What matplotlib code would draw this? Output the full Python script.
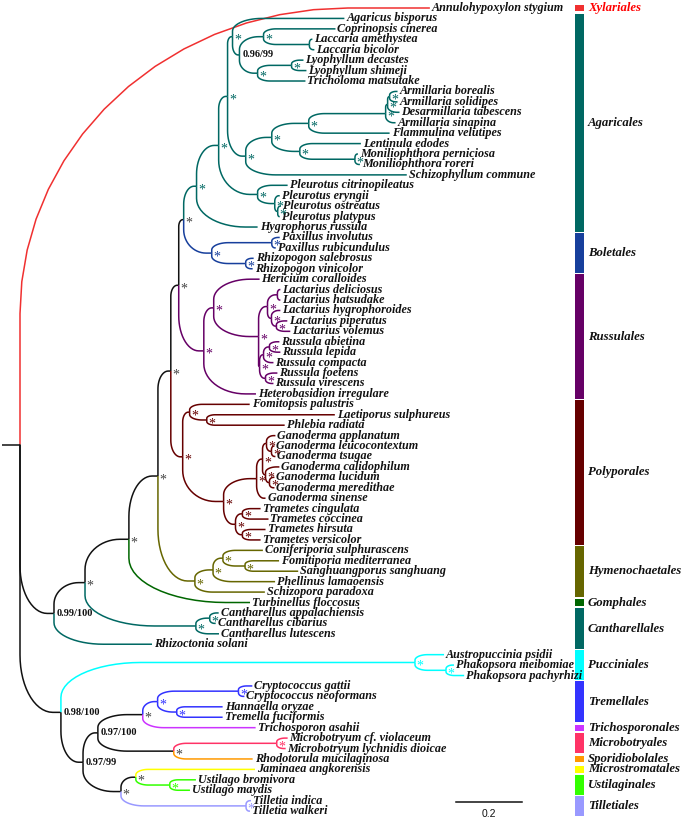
import matplotlib
matplotlib.use("Agg")
import matplotlib.pyplot as plt
import numpy as np
from matplotlib.collections import LineCollection
from matplotlib.patches import Rectangle
from matplotlib.transforms import blended_transform_factory

# ---------------- data ----------------
# Tree pieces (Newick, branch lengths in substitutions/site, internal labels = support)
G2 = ("((Coprinopsis_cinerea:0.218,(Laccaria_amethystea:0.009,Laccaria_bicolor:0.015):0.139)*:0.073,"
      "((Lyophyllum_decastes:0.036,Lyophyllum_shimeji:0.045)*:0.103,Tricholoma_matsutake:0.145)*:0.055)0.96/99:0.021")
G1 = f"(Agaricus_bisporus:0.339,{G2})*:0.015"
ARM = ("(((Armillaria_borealis:0.024,Armillaria_solidipes:0.024)*:0.006,Desarmillaria_tabescens:0.036)*:0.006,"
       "Armillaria_sinapina:0.030)*:0.233")
K3 = f"({ARM},Flammulina_velutipes:0.245)*:0.112"
K4 = "(Lentinula_edodes:0.185,(Moniliophthora_perniciosa:0.009,Moniliophthora_roreri:0.015)*:0.167)*:0.085"
K1 = f"(({K3},{K4})*:0.079,Schizophyllum_commune:0.488)*:0.055"
G = f"({G1},{K1})*:0.027"
PLEUR = ("(Pleurotus_citrinopileatus:0.091,(Pleurotus_eryngii:0.015,"
         "(Pleurotus_ostreatus:0.009,Pleurotus_platypus:0.006)*:0.009)*:0.052)*:0.118")
AGAR = f"(({G},{PLEUR})*:0.067,Hygrophorus_russula:0.185)*:0.039"
BOLET = ("((Paxillus_involutus:0.024,Paxillus_rubicundulus:0.012)*:0.182,"
         "(Rhizopogon_salebrosus:0.024,Rhizopogon_vinicolor:0.021)*:0.103)*:0.085")
F = f"({AGAR},{BOLET})*:0.015"
LACT = ("((Lactarius_deliciosus:0.009,Lactarius_hatsudake:0.009):0.030,(Lactarius_hygrophoroides:0.027,"
        "(Lactarius_piperatus:0.033,Lactarius_volemus:0.042)*:0.015)*:0.012)*:0.027")
RUSSULA = ("(((Russula_abietina:0.030,Russula_lepida:0.033)*:0.018,Russula_compacta:0.030)*:0.012,"
           "(Russula_foetens:0.036,Russula_virescens:0.024)*:0.018)*:0.003")
RUSS = f"((Hericium_coralloides:0.139,({LACT},{RUSSULA})*:0.136)*:0.030,Heterobasidion_irregulare:0.158)*:0.076"
E = f"({F},{RUSS})*:0.024"
P1 = "(Fomitopsis_palustris:0.182,(Laetiporus_sulphureus:0.388,Phlebia_radiata:0.236)*:0.052)*:0.021"
GANO = ("(((Ganoderma_applanatum:0.027,(Ganoderma_leucocontextum:0.009,Ganoderma_tsugae:0.012)*:0.015)*:0.012,"
        "(Ganoderma_calidophilum:0.042,(Ganoderma_lucidum:0.015,Ganoderma_meredithae:0.015)*:0.012)*:0.009)*:0.018,"
        "Ganoderma_sinense:0.027)*:0.100")
TRAM = ("((Trametes_cingulata:0.055,Trametes_coccinea:0.079)*:0.021,"
        "(Trametes_hirsuta:0.070,Trametes_versicolor:0.055)*:0.021)*:0.036")
POLYP = f"({P1},({GANO},{TRAM})*:0.124)*:0.036"
D = f"({E},{POLYP})*:0.039"
HYMENO = ("(((Coniferiporia_sulphurascens:0.121,(Fomitiporia_mediterranea:0.103,Sanghuangporus_sanghuang:0.161)*:0.067)*:0.030,"
          "Phellinus_lamaoensis:0.188)*:0.055,Schizopora_paradoxa:0.212)*:0.112")
C = f"({D},{HYMENO})*:0.088"
B = f"({C},Turbinellus_floccosus:0.367)*:0.133"
CANTH = ("((Cantharellus_appalachiensis:0.027,Cantharellus_cibarius:0.018)*:0.042,"
         "Cantharellus_lutescens:0.070)*:0.336")
A = f"({B},{CANTH})*:0.094"
N099 = f"({A},Rhizoctonia_solani:0.297)0.99/100:0.103"
PUCC = "(Austropuccinia_psidii:0.088,(Phakopsora_meibomiae:0.024,Phakopsora_pachyrhizi:0.055)*:0.094)*:1.073"
TREMELLO = ("(((Cryptococcus_gattii:0.042,Cryptococcus_neoformans:0.018)*:0.245,"
            "(Hannaella_oryzae:0.139,Tremella_fuciformis:0.139)*:0.058)*:0.045,Trichosporon_asahii:0.342)*:0.136")
MICROBOT = ("((Microbotryum_cf._violaceum:0.033,Microbotryum_lychnidis_dioicae:0.027)*:0.312,"
            "Rhodotorula_mucilaginosa:0.239)*:0.230")
USTIL = ("((Jaminaea_angkorensis:0.361,(Ustilago_bromivora:0.079,Ustilago_maydis:0.061)*:0.103)*:0.045,"
         "(Tilletia_indica:0.015,Tilletia_walkeri:0.012)*:0.379)*:0.115")
N098 = f"({PUCC},(({TREMELLO},{MICROBOT})0.97/100:0.045,{USTIL})0.97/99:0.067)0.98/100:0.124"
NEWICK = f"(Annulohypoxylon_stygium:1.242,{N099},{N098});"

ORDER_NAMES = ["Xylariales", "Agaricales", "Boletales", "Russulales", "Polyporales",
               "Hymenochaetales", "Gomphales", "Cantharellales", "Pucciniales",
               "Tremellales", "Trichosporonales", "Microbotryales", "Sporidiobolales",
               "Microstromatales", "Ustilaginales", "Tilletiales"]
ORDER_FIRST = ["Annulohypoxylon stygium", "Agaricus bisporus", "Paxillus involutus",
               "Hericium coralloides", "Fomitopsis palustris", "Coniferiporia sulphurascens",
               "Turbinellus floccosus", "Cantharellus appalachiensis", "Austropuccinia psidii",
               "Cryptococcus gattii", "Trichosporon asahii", "Microbotryum cf. violaceum",
               "Rhodotorula mucilaginosa", "Jaminaea angkorensis", "Ustilago bromivora",
               "Tilletia indica"]
ORDER_LAST = ["Annulohypoxylon stygium", "Hygrophorus russula", "Rhizopogon vinicolor",
              "Heterobasidion irregulare", "Trametes versicolor", "Schizopora paradoxa",
              "Turbinellus floccosus", "Rhizoctonia solani", "Phakopsora pachyrhizi",
              "Tremella fuciformis", "Trichosporon asahii", "Microbotryum lychnidis dioicae",
              "Rhodotorula mucilaginosa", "Jaminaea angkorensis", "Ustilago maydis",
              "Tilletia walkeri"]
ORDER_COLORS = ["#f03030", "#006863", "#173f9c", "#660066", "#660000",
                "#666600", "#006600", "#006863", "#00ffff",
                "#3333ff", "#cc33ff", "#ff3366", "#ff9900",
                "#ffff00", "#33ff00", "#9999ff"]
SCALE_LEN = 0.2
SCALE_LABEL = "0.2"

# ---------------- parse ----------------
def parse_newick(s):
    pos = 0
    def node():
        nonlocal pos
        children = []
        if s[pos] == "(":
            pos += 1
            children.append(node())
            while s[pos] == ",":
                pos += 1
                children.append(node())
            pos += 1
        st = pos
        while s[pos] not in ",():;":
            pos += 1
        label = s[st:pos]
        length = 0.0
        if s[pos] == ":":
            pos += 1
            st = pos
            while s[pos] not in ",();":
                pos += 1
            length = float(s[st:pos])
        return {"label": label, "len": length, "children": children}
    return node()

tree = parse_newick(NEWICK)

leaves = []
def layout(n, x):
    n["x"] = x
    if not n["children"]:
        n["name"] = n["label"].replace("_", " ")
        n["y"] = float(len(leaves))
        leaves.append(n)
        n["leaves"] = [n["name"]]
    else:
        for c in n["children"]:
            layout(c, x + c["len"])
        n["y"] = float(np.mean([c["y"] for c in n["children"]]))
        n["leaves"] = [l for c in n["children"] for l in c["leaves"]]
layout(tree, 0.0)

leaf_index = {l["name"]: int(l["y"]) for l in leaves}
leaf_order = {}
for name, f, l in zip(ORDER_NAMES, ORDER_FIRST, ORDER_LAST):
    for i in range(leaf_index[f], leaf_index[l] + 1):
        leaf_order[leaves[i]["name"]] = name
order_color = dict(zip(ORDER_NAMES, ORDER_COLORS))

def node_color(n, default):
    ords = {leaf_order[x] for x in n["leaves"]}
    return order_color[ords.pop()] if len(ords) == 1 else default

# ---------------- figure ----------------
W, H = 685, 818
PXX, PXY = 330.0, 10.43     # pixels per unit
X0, Y0 = 20.0, 8.0
fig = plt.figure(figsize=(W / 100, H / 100), dpi=100)
ax = fig.add_axes([0, 0, 1, 1])
ax.set_xlim(-X0 / PXX, (W - X0) / PXX)
ax.set_ylim((H - Y0) / PXY, -Y0 / PXY)
ax.axis("off")

SERIF = ["Liberation Serif", "DejaVu Serif"]

segs, cols = [], []
def edge_path(xp, yp, xc, yc):
    dx = (xc - xp) * PXX
    dy = (yc - yp) * PXY
    if abs(dy) < 0.3:
        return [(xp, yp), (xc, yc)]
    s = np.sign(dy)
    rx = min(0.8 * dx, 1.6 * abs(dy))
    ry = min(0.7 * abs(dy), 1.4 * dx)
    t = np.linspace(0, np.pi / 2, 16)
    ex = xp * PXX + rx - rx * np.cos(t)
    ey = yc * PXY - s * ry + s * ry * np.sin(t)
    pts = [(xp, yp)] + [(a / PXX, b / PXY) for a, b in zip(ex, ey)] + [(xc, yc)]
    return pts

def draw(n):
    for c in n["children"]:
        segs.append(edge_path(n["x"], n["y"], c["x"], c["y"]))
        cols.append(node_color(c, "#111111"))
        draw(c)
draw(tree)
segs.append([(-18 / PXX, tree["y"]), (0, tree["y"])])
cols.append("#111111")
ax.add_collection(LineCollection(segs, colors=cols, linewidths=1.1, capstyle="butt"))

# leaf labels
for l in leaves:
    ax.text(l["x"] + 2 / PXX, l["y"], l["name"], fontsize=8.7, fontweight="bold",
            fontstyle="italic", family=SERIF, va="center", ha="left", color="#111111")

# support labels
def supports(n):
    if n["children"]:
        lab = n["label"]
        if lab == "*":
            ax.text(n["x"] + 1.5 / PXX, n["y"] + 0.35, "*", fontsize=10, family=SERIF,
                    va="center", ha="left", color=node_color(n, "#444444"))
        elif lab:
            ax.text(n["x"] + 3 / PXX, n["y"], lab, fontsize=7.5, fontweight="bold",
                    family=SERIF, va="center", ha="left", color="#111111")
        for c in n["children"]:
            supports(c)
supports(tree)

# order bars
tr = blended_transform_factory(ax.transAxes, ax.transData)
for name, f, l, col in zip(ORDER_NAMES, ORDER_FIRST, ORDER_LAST, ORDER_COLORS):
    i0, i1 = leaf_index[f], leaf_index[l]
    pad = 0.45 if i1 > i0 else 0.3
    ax.add_patch(Rectangle((575 / W, i0 - pad), 9 / W, (i1 - i0) + 2 * pad,
                           transform=tr, facecolor=col, edgecolor="none"))
    ax.text(588 / W, (i0 + i1) / 2, name, transform=tr, fontsize=9.2, fontweight="bold",
            fontstyle="italic", family=SERIF, va="center", ha="left",
            color=("#ff0000" if name == "Xylariales" else "#111111"))

# scale bar
sx = (456 - X0) / PXX
sy = (802 - Y0) / PXY
ax.plot([sx, sx + SCALE_LEN], [sy, sy], color="#111111", lw=1.1)
ax.text(sx + SCALE_LEN / 2, (814 - Y0) / PXY, SCALE_LABEL, fontsize=7.5,
        family=["Liberation Sans", "DejaVu Sans"], ha="center", va="center", color="#111111")

fig.savefig("out.png", dpi=100)
